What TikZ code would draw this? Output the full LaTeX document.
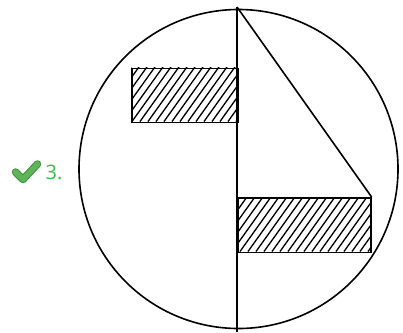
\documentclass[tikz,border=0pt]{standalone}
\usepackage{fontspec}
\setmainfont{Open Sans}
\definecolor{okgreen}{RGB}{55,190,70}
\definecolor{checkgreen}{RGB}{95,180,90}
\definecolor{checkdark}{RGB}{60,145,60}
\tikzset{
  outline/.style={line width=1.6pt, black},
  hatchline/.style={line width=1.3pt, black},
  hatchbox/.style={outline},
  checkmark/.style={line cap=round, line join=round},
}
\begin{document}
\begin{tikzpicture}[x=1pt,y=-1pt]
\useasboundingbox (0,0) rectangle (403,332);
% circle
\node[outline, draw, circle, minimum size=319pt, inner sep=0pt] (c) at (238.5,169) {};
% upper hatched rectangle
\begin{scope}
\clip (131,67.5) rectangle (237,121.5);
\foreach \i in {-60,-52,...,260} {
  \draw[hatchline] (\i,121.5) -- ++(40,-56);
}
\end{scope}
\node[hatchbox, draw, rectangle, minimum width=106pt, minimum height=54pt, inner sep=0pt, anchor=north west] (r1) at (131,67.5) {};
% lower hatched rectangle
\begin{scope}
\clip (237,197) rectangle (370,251.5);
\foreach \i in {160,168,...,420} {
  \draw[hatchline] (\i,251.5) -- ++(40,-56);
}
\end{scope}
\node[hatchbox, draw, rectangle, minimum width=133pt, minimum height=54.5pt, inner sep=0pt, anchor=north west] (r2) at (237,197) {};
% lines
\coordinate (top) at (237,7);
\coordinate (bot) at (237,332);
\draw[outline] (top) -- (bot);
\draw[outline] (top) -- (r2.north east);
% check icon
\coordinate (ck1) at (15.5,172);
\coordinate (ck2) at (23,179.5);
\coordinate (ck3) at (37.5,164);
\draw[checkmark, draw=checkdark, line width=7.5pt] (ck1) -- (ck2) -- (ck3);
\draw[checkmark, draw=checkgreen, line width=5.5pt] (ck1) -- (ck2) -- (ck3);
% label
\node[text=okgreen, anchor=west, inner sep=0pt, font=\fontsize{20}{24}\selectfont] (lab) at (45.5,172) {3.};
\end{tikzpicture}
\end{document}
